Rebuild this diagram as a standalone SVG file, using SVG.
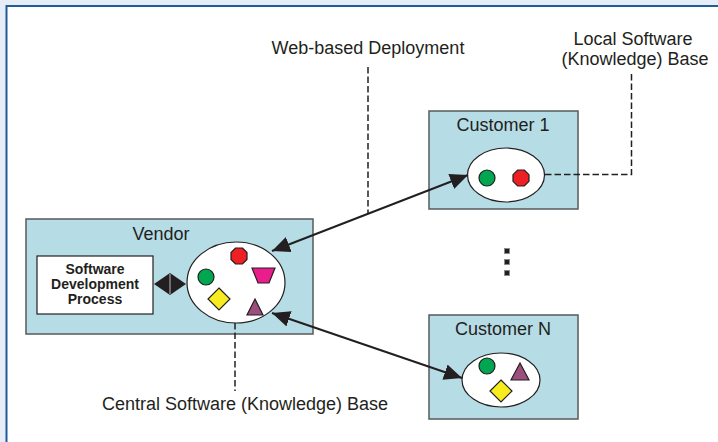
<svg xmlns="http://www.w3.org/2000/svg" width="718" height="442" viewBox="0 0 718 442">
<style>
.lbl{font-family:"Liberation Sans",Arial,sans-serif;font-size:18px;fill:#231f20;text-anchor:middle}
.bold{font-family:"Liberation Sans",Arial,sans-serif;font-size:14px;font-weight:bold;fill:#231f20;text-anchor:middle}
.box{fill:#b6dce6;stroke:#58595b;stroke-width:1.5}
.ell{fill:#fff;stroke:#231f20;stroke-width:1.2}
.dash{fill:none;stroke:#231f20;stroke-width:1.5;stroke-dasharray:6.5,3}
.conn{fill:none;stroke:#231f20;stroke-width:2}
.sh{stroke:#231f20;stroke-width:1.2}
</style>
<defs>
<marker id="ah" markerUnits="userSpaceOnUse" markerWidth="20" markerHeight="16" refX="18" refY="8" orient="auto-start-reverse">
<path d="M0,0 L18,8 L0,16 z" fill="#231f20"/>
</marker>
</defs>
<rect x="0" y="0" width="718" height="442" fill="#e6edf7"/>
<rect x="6.5" y="6" width="720" height="450" fill="#fff" stroke="#1f5c99" stroke-width="2"/>

<g id="labels">
<text class="lbl" x="368" y="54">Web-based Deployment</text>
<text class="lbl" x="633" y="45">Local Software</text>
<text class="lbl" x="635" y="65">(Knowledge) Base</text>
<text class="lbl" x="245" y="410">Central Software (Knowledge) Base</text>
</g>

<g id="vendor">
<rect class="box" x="26" y="219" width="287" height="115"/>
<text class="lbl" x="161" y="240">Vendor</text>
</g>

<g id="sdp">
<rect x="37" y="256" width="116" height="58" fill="#fff" stroke="#231f20" stroke-width="1.2"/>
<text class="bold" x="95" y="274">Software</text>
<text class="bold" x="95" y="289">Development</text>
<text class="bold" x="95" y="304">Process</text>
</g>

<g id="central-base">
<ellipse class="ell" cx="236" cy="282.5" rx="49" ry="40.5"/>
<polygon class="sh" fill="#ed2024" points="235.5,248 242.5,248 247,252.5 247,259.5 242.5,264 235.5,264 231,259.5 231,252.5"/>
<circle class="sh" fill="#00a650" cx="206" cy="277" r="8"/>
<polygon class="sh" fill="#e91e8c" points="252,268 275,268 269,283 258,283"/>
<polygon class="sh" fill="#f7ec1e" points="219,288 230,299 219,310 208,299"/>
<polygon class="sh" fill="#9c4f7c" points="255,299 263,315 247,315"/>
</g>

<g id="customer-1">
<rect class="box" x="429" y="111" width="149" height="98"/>
<text class="lbl" x="503" y="131">Customer 1</text>
<ellipse class="ell" cx="506" cy="175" rx="38.5" ry="27"/>
<circle class="sh" fill="#00a650" cx="487" cy="178" r="8"/>
<polygon class="sh" fill="#ed2024" points="517.7,170 524.3,170 529,174.7 529,181.3 524.3,186 517.7,186 513,181.3 513,174.7"/>
</g>

<g id="customer-n">
<rect class="box" x="429" y="315" width="149" height="104"/>
<text class="lbl" x="503" y="335">Customer N</text>
<ellipse class="ell" cx="501" cy="380" rx="39" ry="27"/>
<circle class="sh" fill="#00a650" cx="487" cy="366" r="8"/>
<polygon class="sh" fill="#9c4f7c" points="520,363 529,380 511,380"/>
<polygon class="sh" fill="#f7ec1e" points="501,380 512,391 501,402 490,391"/>
</g>

<g id="ellipsis">
<rect x="504.5" y="248.5" width="5" height="5" fill="#231f20" stroke="#888" stroke-width="0.8"/>
<rect x="504.5" y="259.5" width="5" height="5" fill="#231f20" stroke="#888" stroke-width="0.8"/>
<rect x="504.5" y="270.5" width="5" height="5" fill="#231f20" stroke="#888" stroke-width="0.8"/>
</g>

<g id="connectors">
<line class="conn" x1="272" y1="251" x2="468" y2="175" marker-start="url(#ah)" marker-end="url(#ah)"/>
<line class="conn" x1="272" y1="313" x2="462" y2="378" marker-start="url(#ah)" marker-end="url(#ah)"/>
<path d="M154,284 L170,273 L186,284 L170,295 z" fill="#231f20"/>
<line x1="170" y1="274" x2="170" y2="294" stroke="#fff" stroke-width="0.7"/>
<path class="dash" d="M368,67 L368,213"/>
<path class="dash" d="M545,174.5 L631.5,174.5 L631.5,73"/>
<path class="dash" d="M235,323 L235,391"/>
</g>
</svg>
